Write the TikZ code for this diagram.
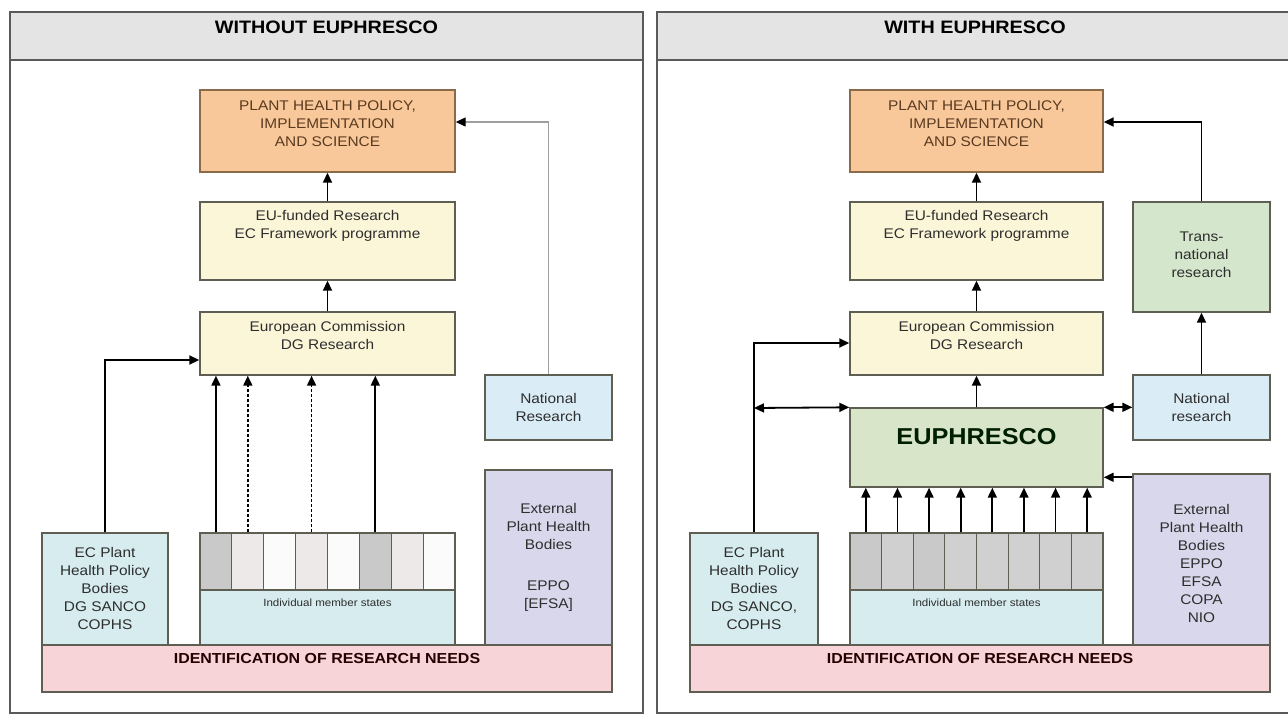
\documentclass[tikz,border=0pt]{standalone}
\usepackage{fontspec}
\setmainfont[FakeStretch=1.1]{Liberation Sans}
\usetikzlibrary{arrows.meta}
\definecolor{frameline}{HTML}{5A5A5A}
\definecolor{boxline}{HTML}{5E5E52}
\definecolor{headfill}{HTML}{E4E4E4}
\definecolor{orangefill}{HTML}{F8C89B}
\definecolor{orangeline}{HTML}{8A6A48}
\definecolor{yellowfill}{HTML}{FCF6D8}
\definecolor{bluefill}{HTML}{DAECF5}
\definecolor{cyanfill}{HTML}{D6ECEE}
\definecolor{lavfill}{HTML}{D9D7EB}
\definecolor{pinkfill}{HTML}{F6D4D7}
\definecolor{greenfill}{HTML}{D4E6CC}
\definecolor{euphfill}{HTML}{D8E5C9}
\definecolor{textc}{HTML}{2E2E2E}
\definecolor{browntext}{HTML}{5A3A1E}
\definecolor{colA}{HTML}{C9C9C9}
\definecolor{colB}{HTML}{EDE9E9}
\definecolor{colC}{HTML}{FBFBFB}
\definecolor{colD}{HTML}{D0D0D0}
\begin{document}
\begin{tikzpicture}[x=1pt,y=-1pt,
  frame/.style={draw=frameline,line width=1.6pt,fill=white,inner sep=0pt},
  head/.style={draw=frameline,line width=1.6pt,fill=headfill,inner sep=0pt},
  box/.style={draw=boxline,line width=1.4pt,inner sep=0pt},
  col/.style={draw=boxline,line width=1.1pt,inner sep=0pt,minimum width=31.875pt,minimum height=57pt},
  colr/.style={draw=boxline,line width=1.1pt,inner sep=0pt,minimum width=31.625pt,minimum height=57pt},
  txt/.style={font=\fontsize{14}{18}\selectfont,align=center,text=textc,inner sep=0pt},
  small/.style={font=\fontsize{10.5}{14}\selectfont,align=center,text=textc,inner sep=0pt},
  htxt/.style={font=\fontsize{18}{20}\selectfont\bfseries,text=black,inner sep=0pt},
  idtxt/.style={font=\fontsize{14.5}{16}\selectfont\bfseries,text=black!85!red,inner sep=0pt},
  arr/.style={line width=1.8pt,-{Triangle[length=10pt,width=9pt]}},
  darr/.style={line width=1.8pt,{Triangle[length=10pt,width=9pt]}-{Triangle[length=10pt,width=9pt]}},
  dsh/.style={line width=1.8pt,dash pattern=on 3pt off 2pt,-{Triangle[length=10pt,width=9pt]}},
  grayarr/.style={draw=gray!75,line width=1.2pt,-{Triangle[length=10pt,width=9pt,color=black]}}
]
\useasboundingbox[fill=white] (0,0) rectangle (1288,715);

% ---------------- LEFT PANEL ----------------
\node[frame,minimum width=633pt,minimum height=701pt] (frameL) at (326.5,362.5) {};
\node[head,minimum width=633pt,minimum height=48pt] (headL) at (326.5,36) {};
\node[htxt] (headLt) at (326.5,27) {WITHOUT EUPHRESCO};

\node[box,draw=orangeline,fill=orangefill,minimum width=255pt,minimum height=82pt] (plantL) at (327.5,131) {};
\node[txt,text=browntext] (plantLt) at (327.5,124) {PLANT HEALTH POLICY,\\IMPLEMENTATION\\AND SCIENCE};

\node[box,fill=yellowfill,minimum width=255pt,minimum height=78pt] (euL) at (327.5,241) {};
\node[txt] (euLt) at (327.5,226) {EU-funded Research\\EC Framework programme};

\node[box,fill=yellowfill,minimum width=255pt,minimum height=63pt] (ecL) at (327.5,343.5) {};
\node[txt] (ecLt) at (327.5,335) {European Commission\\DG Research};

\node[box,fill=bluefill,minimum width=127pt,minimum height=65pt] (natL) at (548.5,407.5) {};
\node[txt] (natLt) at (548.5,407.5) {National\\Research};

\node[box,fill=lavfill,minimum width=127pt,minimum height=175pt] (extL) at (548.5,557.5) {};
\node[txt] (extLt) at (548.5,526) {External\\Plant Health\\Bodies};
\node[txt] (extLt2) at (548.5,596) {EPPO\\{[EFSA]}};

\node[box,fill=cyanfill,minimum width=126pt,minimum height=112pt] (ecpL) at (105,589) {};
\node[txt] (ecpLt) at (105,588) {EC Plant\\Health Policy\\Bodies\\DG SANCO\\COPHS};

\node[box,fill=cyanfill,minimum width=255pt,minimum height=112pt] (msL) at (327.5,589) {};
\node[col,fill=colA] (cL1) at (215.94,561.5) {};
\node[col,fill=colB] (cL2) at (247.81,561.5) {};
\node[col,fill=colC] (cL3) at (279.69,561.5) {};
\node[col,fill=colB] (cL4) at (311.56,561.5) {};
\node[col,fill=colC] (cL5) at (343.44,561.5) {};
\node[col,fill=colA] (cL6) at (375.31,561.5) {};
\node[col,fill=colB] (cL7) at (407.19,561.5) {};
\node[col,fill=colC] (cL8) at (439.06,561.5) {};
\node[small] (msLt) at (327.5,603) {Individual member states};

\node[box,fill=pinkfill,minimum width=570pt,minimum height=47pt] (idL) at (327,668.5) {};
\node[idtxt] (idLt) at (327,659) {IDENTIFICATION OF RESEARCH NEEDS};

% arrows left
\draw[arr] (euL.north) -- (plantL.south);
\draw[arr] (ecL.north) -- (euL.south);
\draw[arr] (cL1.north) -- (cL1.north |- ecL.south);
\draw[dsh] (cL2.north) -- (cL2.north |- ecL.south);
\draw[dsh] (cL4.north) -- (cL4.north |- ecL.south);
\draw[arr] (cL6.north) -- (cL6.north |- ecL.south);
\coordinate (ecpLturn) at (105,360);
\draw[arr] (ecpL.north) -- (ecpLturn) -- (ecpLturn -| ecL.west);
\coordinate (natLturn) at (548.5,122);
\draw[grayarr] (natL.north) -- (natLturn) -- (natLturn -| plantL.east);

% ---------------- RIGHT PANEL ----------------
\node[frame,minimum width=643pt,minimum height=701pt] (frameR) at (978.5,362.5) {};
\node[head,minimum width=643pt,minimum height=48pt] (headR) at (978.5,36) {};
\node[htxt] (headRt) at (975,27) {WITH EUPHRESCO};

\node[box,draw=orangeline,fill=orangefill,minimum width=253pt,minimum height=82pt] (plantR) at (976.5,131) {};
\node[txt,text=browntext] (plantRt) at (976.5,124) {PLANT HEALTH POLICY,\\IMPLEMENTATION\\AND SCIENCE};

\node[box,fill=yellowfill,minimum width=253pt,minimum height=78pt] (euR) at (976.5,241) {};
\node[txt] (euRt) at (976.5,226) {EU-funded Research\\EC Framework programme};

\node[box,fill=yellowfill,minimum width=253pt,minimum height=63pt] (ecR) at (976.5,343.5) {};
\node[txt] (ecRt) at (976.5,335) {European Commission\\DG Research};

\node[box,fill=greenfill,minimum width=137pt,minimum height=110pt] (trR) at (1201.5,257) {};
\node[txt] (trRt) at (1201.5,255) {Trans-\\national\\research};

\node[box,fill=bluefill,minimum width=137pt,minimum height=65pt] (natR) at (1201.5,407.5) {};
\node[txt] (natRt) at (1201.5,407.5) {National\\research};

\node[box,fill=euphfill,minimum width=253pt,minimum height=79pt] (euphR) at (976.5,447.5) {};
\node[font=\fontsize{23}{26}\selectfont\bfseries,text=black!80!green!60!black,inner sep=0pt] (euphRt) at (976.5,437) {EUPHRESCO};

\node[box,fill=lavfill,minimum width=137pt,minimum height=171pt] (extR) at (1201.5,559.5) {};
\node[txt] (extRt) at (1201.5,563) {External\\Plant Health\\Bodies\\EPPO\\EFSA\\COPA\\NIO};

\node[box,fill=cyanfill,minimum width=128pt,minimum height=112pt] (ecpR) at (754,589) {};
\node[txt] (ecpRt) at (754,588) {EC Plant\\Health Policy\\Bodies\\DG SANCO,\\COPHS};

\node[box,fill=cyanfill,minimum width=253pt,minimum height=112pt] (msR) at (976.5,589) {};
\node[colr,fill=colA] (cR1) at (865.81,561.5) {};
\node[colr,fill=colD] (cR2) at (897.44,561.5) {};
\node[colr,fill=colA] (cR3) at (929.06,561.5) {};
\node[colr,fill=colD] (cR4) at (960.69,561.5) {};
\node[colr,fill=colD] (cR5) at (992.31,561.5) {};
\node[colr,fill=colD] (cR6) at (1023.94,561.5) {};
\node[colr,fill=colD] (cR7) at (1055.56,561.5) {};
\node[colr,fill=colD] (cR8) at (1087.19,561.5) {};
\node[small] (msRt) at (976.5,603) {Individual member states};

\node[box,fill=pinkfill,minimum width=580pt,minimum height=47pt] (idR) at (980,668.5) {};
\node[idtxt] (idRt) at (980,659) {IDENTIFICATION OF RESEARCH NEEDS};

% arrows right
\draw[arr] (euR.north) -- (plantR.south);
\draw[arr] (ecR.north) -- (euR.south);
\draw[arr] (euphR.north) -- (ecR.south);
\draw[arr] (natR.north) -- (trR.south);
\coordinate (trRturn) at (1201.5,122);
\draw[arr] (trR.north) -- (trRturn) -- (trRturn -| plantR.east);
\coordinate (ecpRturn) at (754,343);
\draw[arr] (ecpR.north) -- (ecpRturn) -- (ecpRturn -| ecR.west);
\coordinate (leftend) at (754,408);
\draw[darr] (leftend) -- (euphR.north west);
\draw[darr] (euphR.north east) -- (euphR.north east -| natR.west);
\draw[arr] ([yshift=-4pt]extR.north west) -- ([yshift=-4pt]extR.north west -| euphR.east);
\foreach \i in {1,...,8} {
  \draw[arr] (cR\i.north) -- (cR\i.north |- euphR.south);
}
\end{tikzpicture}
\end{document}
